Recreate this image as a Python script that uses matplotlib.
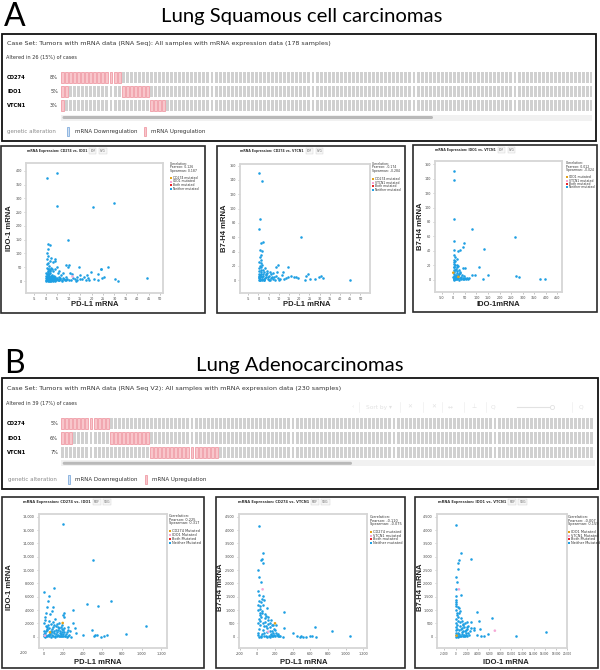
import matplotlib
matplotlib.use('Agg')
import matplotlib.pyplot as plt
from matplotlib.patches import Rectangle, FancyBboxPatch
from matplotlib import font_manager

# ---------------- data ----------------
genes = ['CD274', 'IDO1', 'VTCN1']

lusc_title = 'Lung Squamous cell carcinomas'
lusc_case_set = 'Case Set: Tumors with mRNA data (RNA Seq): All samples with mRNA expression data (178 samples)'
lusc_altered = 'Altered in 26 (15%) of cases'
lusc_pct = ['8%', '5%', '3%']
lusc_n_samples = 178
lusc_up_cd274 = [0, 1, 2, 3, 4, 5, 6, 7, 8, 9, 10, 11, 12, 13, 14]
lusc_up_ido1 = [0, 1, 15, 16, 17, 18, 19, 20, 21]
lusc_up_vtcn1 = [0, 22, 23, 24, 25]

luad_title = 'Lung Adenocarcinomas'
luad_case_set = 'Case Set: Tumors with mRNA data (RNA Seq V2): All samples with mRNA expression data (230 samples)'
luad_altered = 'Altered in 39 (17%) of cases'
luad_pct = ['5%', '6%', '7%']
luad_n_samples = 230
luad_up_cd274 = [0, 1, 2, 3, 4, 5, 6, 7, 8, 9, 10, 11]
luad_up_ido1 = [0, 1, 2, 12, 13, 14, 15, 16, 17, 18, 19, 20, 21]
luad_up_vtcn1 = [22, 23, 24, 25, 26, 27, 28, 29, 30, 31, 32, 33, 34, 35, 36, 37, 38]

# scatter A1: LUSC PD-L1 (CD274) vs IDO-1
a1_points = [(0.6, 375), (4.9, 394), (4.9, 273), (20.8, 268), (29.8, 285), (9.7, 149), (0.9, 135),
             (1.7, 130), (0.9, 116), (1.0, 92), (0.6, 81), (2.3, 82), (4.2, 80), (4.2, 73), (3.2, 68),
             (0.9, 67), (4.8, 52), (8.7, 59), (10.2, 59), (14.5, 50), (9.9, 50), (24.0, 43), (24.3, 44),
             (27.3, 50), (19.6, 32), (22.8, 25), (25.4, 15), (24.7, 12), (30.2, 7), (31.5, 1), (44.3, 11),
             (10.6, 30), (7.7, 30), (6.7, 21), (15.1, 22), (16.9, 16), (17.9, 21), (18.5, 11), (17.4, 4),
             (16.0, 8), (13.8, 4), (12.8, 8), (10.3, 2), (8.7, 5), (9.0, 15), (7.4, 12), (5.8, 16),
             (5.1, 8), (3.8, 10), (2.6, 18), (1.6, 45), (2.2, 46), (2.9, 42), (3.3, 36),
             (0.2, 2), (0.4, 5), (0.5, 9), (0.7, 14), (0.3, 18), (0.8, 22), (0.6, 27), (1.0, 33), (1.1, 3),
             (1.2, 7), (1.3, 11), (1.4, 16), (1.5, 20), (1.6, 25), (1.8, 30), (1.9, 1), (2.0, 4), (2.1, 8),
             (2.2, 12), (2.4, 15), (2.5, 19), (2.7, 23), (2.8, 2), (3.0, 6), (3.1, 10), (3.3, 13), (3.5, 17),
             (3.6, 3), (3.8, 5), (4.0, 9), (4.2, 14), (4.4, 2), (4.6, 6), (4.8, 11), (5.3, 3), (5.6, 5),
             (6.0, 2), (6.4, 8), (6.9, 4), (7.2, 1), (0.1, 0.5), (0.3, 12), (0.9, 38), (1.2, 42), (1.7, 36),
             (0.5, 48), (2.0, 40), (0.2, 30), (6.2, 12), (7.8, 6), (8.3, 2), (9.4, 9), (11.0, 4), (12.0, 12),
             (13.1, 1), (14.8, 6), (19.0, 2), (21.0, 8), (23.0, 3), (11.5, 25), (13.5, 15), (5.5, 28),
             (6.0, 35), (3.9, 44), (1.3, 55), (0.7, 62), (1.8, 72), (0.4, 100), (1.0, 1), (1.5, 0.5),
             (2.3, 1.5), (3.4, 0.8), (4.1, 0.3), (0.8, 4), (1.9, 6), (2.6, 9), (3.2, 3.5), (0.6, 16), (1.1, 24)]
a1_mutated = [(11.6, 19, 'second')]
a1_corr = ('0.126', '0.187')
a1_legend = ['CD274 mutated', 'IDO1 mutated', 'Both mutated', 'Neither mutated']

# scatter A2: LUSC PD-L1 vs B7-H4 (VTCN1)
a2_points = [(0.2, 150), (1.6, 138), (0.8, 85), (0.3, 71), (20.9, 60), (2.1, 54), (1.1, 52), (0.8, 42),
             (1.8, 41), (1.3, 35), (0.8, 32), (1.5, 29), (0.5, 26), (1.1, 24), (9.5, 21), (8.7, 19),
             (14.4, 18), (3.3, 17), (2.5, 14), (5.7, 12), (7.4, 10), (11.9, 11), (9.3, 12), (24.3, 9),
             (23.4, 6), (29.9, 5), (30.6, 6), (31.9, 3), (15.8, 6), (17.6, 5), (18.5, 4), (13.6, 3),
             (10.5, 2), (44.9, 0.5), (25.3, 2), (27.8, 1.5), (22.7, 0.5), (19.6, 3), (14.7, 5), (11.4, 7),
             (0.3, 1), (0.5, 3), (0.7, 5), (0.9, 8), (1.2, 11), (1.4, 14), (0.4, 17), (0.6, 20), (1.8, 2),
             (2.0, 4), (2.2, 6), (2.4, 9), (2.7, 12), (3.0, 1), (3.2, 3), (3.5, 5), (3.8, 7), (4.1, 10),
             (4.5, 2), (4.8, 4), (5.2, 6), (5.6, 1), (6.0, 3), (6.5, 5), (7.0, 2), (7.6, 4), (8.2, 1),
             (8.8, 6), (9.5, 3), (10.2, 1), (12.5, 2), (1.0, 0.5), (1.6, 0.3), (2.6, 0.8), (0.2, 9),
             (0.5, 13), (1.1, 18), (1.9, 22), (3.6, 9), (4.4, 13), (6.2, 9), (0.8, 0.2), (1.3, 6), (2.9, 2),
             (5.0, 0.5), (0.1, 4), (0.4, 6), (0.9, 2), (1.5, 9)]
a2_mutated = []
a2_corr = ('-0.174', '-0.284')
a2_legend = ['CD274 mutated', 'VTCN1 mutated', 'Both mutated', 'Neither mutated']

# scatter A3: LUSC IDO-1 vs B7-H4
a3_points = [(3, 150), (3, 138), (4, 84.5), (79, 70.7), (266.6, 58.7), (1, 53.6), (44.7, 50.8), (3, 41.6),
             (27.4, 41.1), (20, 39.7), (43, 44.8), (134, 42.5), (3, 34.2), (8, 31), (14, 29), (111, 17),
             (4, 18), (14, 20), (22, 19), (40, 16.6), (49, 15.7), (79, 6.5), (94, 6.5), (151, 6.5),
             (130, 0.5), (271, 5), (284, 4), (375, 1.4), (395, 1.4),
             (1, 1), (2, 3), (3, 5), (4, 8), (5, 11), (6, 14), (2, 17), (3, 22), (8, 2), (10, 4), (12, 6),
             (14, 9), (16, 12), (7, 26), (18, 1), (20, 3), (22, 5), (25, 8), (28, 11), (30, 2), (33, 4),
             (36, 6), (40, 1), (44, 3), (48, 5), (52, 2), (56, 1), (60, 3), (65, 1), (70, 2), (12, 0.5),
             (26, 0.3), (35, 0.8), (45, 0.4), (5, 0.2), (9, 1.5), (15, 2.5), (1, 13), (2, 24), (4, 28),
             (11, 15), (19, 7), (24, 14), (31, 9), (6, 5), (13, 3), (17, 17), (8, 21), (3, 0.6), (0.5, 4)]
a3_mutated = [(0, 9.7, 'first'), (22, 4, 'first')]
a3_corr = ('0.012', '-0.024')
a3_legend = ['IDO1 mutated', 'VTCN1 mutated', 'Both mutated', 'Neither mutated']

# scatter B1: LUAD PD-L1 vs IDO-1
b1_points = [(203, 16900), (502, 11500), (10, 6750), (108, 7350), (58, 6100), (51, 5400), (685, 5350),
             (441, 4850), (559, 4600), (34, 4500), (102, 4400), (305, 4000), (85, 3900), (27, 3600),
             (68, 3350), (17, 2900), (210, 3000), (298, 2100), (214, 3600), (203, 3300), (1041, 1650),
             (492, 1000), (322, 1250), (336, 600), (400, 250), (247, 150), (285, 0), (515, 150), (530, 200),
             (543, 300), (586, 0), (620, 100), (644, 300), (841, 400),
             (5, 100), (12, 300), (20, 600), (28, 900), (35, 1200), (42, 1500), (50, 1800), (8, 2100),
             (15, 2500), (60, 200), (70, 500), (80, 800), (90, 1100), (100, 1400), (110, 1700), (120, 100),
             (130, 400), (140, 700), (150, 1000), (160, 1300), (170, 50), (180, 350), (190, 650), (200, 950),
             (210, 1250), (220, 150), (230, 450), (240, 750), (250, 1050), (25, 50), (45, 250), (65, 450),
             (85, 650), (105, 850), (125, 1050), (145, 250), (165, 550), (185, 150), (205, 450), (10, 800),
             (30, 1600), (55, 2400), (75, 1900), (95, 2200), (115, 2600), (135, 1900), (155, 2000),
             (175, 1500), (195, 1800), (18, 0), (38, 30), (58, 60), (78, 20), (98, 80), (118, 10), (138, 40),
             (158, 120), (178, 70), (198, 30), (218, 90), (238, 20), (3, 400), (40, 1000), (62, 1300),
             (88, 300), (112, 600), (128, 1600), (148, 1500), (168, 900), (188, 1100), (208, 700),
             (260, 300), (270, 800), (248, 1400)]
b1_mutated = [(197, 2050, 'first'), (68, 650, 'first'), (17, 150, 'second')]
b1_corr = ('0.225', '0.317')
b1_legend = ['CD274 Mutated', 'IDO1 Mutated', 'Both Mutated', 'Neither Mutated']

# scatter B2: LUAD PD-L1 vs B7-H4
b2_points = [(15, 4162), (68, 3125), (49, 2925), (38, 2875), (68, 2750), (8, 2500), (23, 2225), (38, 2037),
             (11, 1725), (68, 1525), (75, 1375), (68, 1187), (106, 1062), (305, 912), (98, 775), (124, 750),
             (151, 625), (211, 437), (162, 450), (305, 312), (400, 125), (445, 37), (652, 375), (848, 225),
             (1048, 25), (480, 0), (498, 10), (517, 5), (547, 0), (592, 10), (622, 20), (667, 5), (230, 20),
             (260, 15), (294, 0),
             (5, 50), (12, 150), (20, 300), (28, 450), (35, 600), (42, 750), (50, 900), (58, 100), (66, 250),
             (74, 400), (82, 550), (90, 700), (98, 20), (106, 180), (114, 330), (122, 480), (130, 40),
             (138, 200), (146, 350), (154, 80), (162, 230), (170, 30), (178, 150), (186, 60), (194, 280),
             (202, 20), (210, 120), (220, 50), (235, 90), (250, 30), (3, 1000), (8, 1200), (14, 1350),
             (20, 1550), (26, 800), (32, 1050), (44, 1300), (56, 950), (10, 500), (24, 650), (40, 20),
             (60, 500), (80, 120), (100, 400), (120, 640), (140, 520), (160, 100), (180, 420), (200, 250),
             (15, 0), (45, 0), (75, 10), (110, 5), (145, 0), (175, 10), (25, 900), (85, 850), (36, 1150),
             (52, 1400)]
b2_mutated = [(60, 1775, 'second'), (124, 187, 'second'), (200, 500, 'first')]
b2_corr = ('-0.110', '-0.075')
b2_legend = ['CD274 mutated', 'VTCN1 mutated', 'Both mutated', 'Neither mutated']

# scatter B3: LUAD IDO-1 vs B7-H4
b3_points = [(0, 4187), (955, 3125), (2746, 2925), (660, 2875), (480, 2750), (418, 2525), (60, 2225),
             (300, 2062), (0, 1775), (895, 1550), (60, 1525), (60, 1375), (60, 1225), (480, 1100),
             (660, 1060), (780, 975), (300, 875), (3880, 912), (6567, 712), (4238, 587), (1970, 537),
             (2746, 537), (5851, 87), (4358, 300), (3300, 312), (2746, 312), (3300, 250), (1970, 350),
             (3880, 62), (4540, 37), (5075, 25), (10925, 37), (16180, 187),
             (50, 50), (120, 150), (200, 300), (280, 450), (360, 600), (440, 750), (520, 900), (600, 100),
             (680, 250), (760, 400), (840, 550), (920, 700), (1000, 20), (1080, 180), (1160, 330),
             (1240, 480), (1320, 40), (1400, 200), (1480, 350), (1560, 80), (1640, 230), (1720, 30),
             (1800, 150), (1900, 60), (2000, 280), (2100, 20), (2250, 120), (2400, 50), (30, 1000),
             (80, 1150), (140, 1300), (10, 650), (100, 500), (250, 800), (320, 20), (450, 0), (700, 10),
             (900, 300), (1100, 600), (1300, 420), (1500, 10), (1700, 500), (2200, 400), (2600, 200),
             (150, 0), (20, 350), (380, 150), (550, 30), (60, 250), (240, 60), (1200, 90), (1850, 250)]
b3_mutated = [(600, 1775, 'second'), (7045, 225, 'second'), (180, 37, 'first')]
b3_corr = ('-0.007', '0.159')
b3_legend = ['IDO1 Mutated', 'VTCN1 Mutated', 'Both Mutated', 'Neither Mutated']

a_xticks = [-5, 0, 5, 10, 15, 20, 25, 30, 35, 40, 45, 50]
a1_yticks = [0, 50, 100, 150, 200, 250, 300, 350, 400]
a_b7_yticks = [0, 20, 40, 60, 80, 100, 120, 140, 160]
a3_xticks = [-50, 0, 50, 100, 150, 200, 250, 300, 350, 400, 450]
b_pdl1_xticks = [-200, 0, 200, 400, 600, 800, 1000, 1200]
b1_yticks = [0, 2000, 4000, 6000, 8000, 10000, 12000, 14000, 16000, 18000]
b_b7_yticks = [0, 500, 1000, 1500, 2000, 2500, 3000, 3500, 4000, 4500]
b3_xticks = [-2000, 0, 2000, 4000, 6000, 8000, 10000, 12000, 14000, 16000, 18000, 20000]

# ---------------- style ----------------
BLUE = '#1e9fe3'
MUTC = {'first': '#e3a21a', 'second': '#f6a9d6', 'both': '#e8282b'}
LEG_COLORS = ['#e3a21a', '#f6a9d6', '#e8282b', BLUE]
GRAY_BAR = '#d0d0d0'
PINK_FACE = '#f8c6cb'
PINK_EDGE = '#ee8e9a'
FRAME = '#d6d6d6'
BOXC = '#2a2a2a'

_names = {f.name for f in font_manager.fontManager.ttflist}


def pick(*cands):
    for n in cands:
        if n in _names:
            return n
    return 'DejaVu Sans'


TITLE_FONT = pick('Lato', 'Open Sans', 'Noto Sans')
SMALL = 'DejaVu Sans'
if 'Liberation Sans Narrow' in _names:
    LABEL_FONT, LABEL_FS = 'Liberation Sans Narrow', 6.4
else:
    LABEL_FONT, LABEL_FS = pick('Liberation Sans', 'DejaVu Sans'), 5.5

W, H = 600, 670
fig = plt.figure(figsize=(6, 6.7), dpi=100)
fig.patch.set_facecolor('white')
bg = fig.add_axes([0, 0, 1, 1])
bg.set_xlim(0, W)
bg.set_ylim(H, 0)
bg.axis('off')
bg.patch.set_alpha(0)


def add_ax(l, t, r, b):
    return fig.add_axes([l / W, 1 - b / H, (r - l) / W, (b - t) / H])


def box(l, t, r, b, lw=1.1, color=BOXC):
    bg.add_patch(Rectangle((l, t), r - l, b - t, fill=False, ec=color, lw=lw, zorder=5))


# ---------------- headings ----------------
bg.text(4, 26, 'A', fontsize=23, family=TITLE_FONT, ha='left', va='baseline')
bg.text(302, 22, lusc_title, fontsize=14.6, family=TITLE_FONT, ha='center', va='baseline')
bg.text(4, 373, 'B', fontsize=23, family=TITLE_FONT, ha='left', va='baseline')
bg.text(300, 370.5, luad_title, fontsize=14.6, family=TITLE_FONT, ha='center', va='baseline')


# ---------------- oncoprints ----------------
def oncoprint(boxc, case_set, case_y, altered, alt_y, rows_top, rows_bottom, bars_l, bars_r, pitch,
              n, ups, pcts, scroll_y, thumb_r, leg_y, leg_pos):
    box(*boxc, lw=1.3, color='#111111')
    bg.text(7, case_y, case_set, fontsize=4.6, family=SMALL, color='#333', va='center')
    bg.text(6, alt_y, altered, fontsize=3.6, family=SMALL, color='#333', va='center')
    ax = add_ax(bars_l, rows_top, bars_r, rows_bottom)
    ax.set_xlim(0, (bars_r - bars_l) / pitch)
    ax.set_ylim(len(ups) - 0.5, -0.5)
    ax.axis('off')
    ax.patch.set_alpha(0)
    idx = list(range(n))
    for r, up in enumerate(ups):
        s = set(up)
        face = [PINK_FACE if i in s else GRAY_BAR for i in idx]
        edge = [PINK_EDGE if i in s else GRAY_BAR for i in idx]
        lws = [0.5 if i in s else 0.0 for i in idx]
        ax.bar([i + 0.5 for i in idx], 0.76, bottom=r - 0.38, width=0.74, color=face,
               edgecolor=edge, linewidth=lws)
    rh = (rows_bottom - rows_top) / len(ups)
    for r, g in enumerate(genes):
        yc = rows_top + (r + 0.5) * rh
        bg.text(7, yc, g, fontsize=3.7, family=SMALL, fontweight='bold', va='center')
        bg.text(58, yc, pcts[r], fontsize=3.6, family=SMALL, ha='right', va='center', color='#333')
    # scroll bar
    bg.add_patch(Rectangle((bars_l, scroll_y - 3), bars_r - bars_l, 6, fc='#f1f1f1', ec='none'))
    bg.add_patch(FancyBboxPatch((bars_l + 2, scroll_y - 1.5), thumb_r - bars_l - 4, 3,
                                boxstyle='round,pad=0,rounding_size=1.5', fc='#b9b9b9', ec='none'))
    # legend
    bg.text(leg_pos[0], leg_y, 'genetic alteration', fontsize=4.0, family=SMALL, color='#8a8a8a', va='center')
    bg.add_patch(Rectangle((leg_pos[1], leg_y - 4.5), 2.2, 9, fc='#cfe0f3', ec='#6fa0d8', lw=0.5))
    bg.text(leg_pos[2], leg_y, 'mRNA Downregulation', fontsize=4.0, family=SMALL, color='#333', va='center')
    bg.add_patch(Rectangle((leg_pos[3], leg_y - 4.5), 2.4, 9, fc=PINK_FACE, ec=PINK_EDGE, lw=0.5))
    bg.text(leg_pos[4], leg_y, 'mRNA Upregulation', fontsize=4.0, family=SMALL, color='#333', va='center')


oncoprint((2, 34, 596, 141), lusc_case_set, 44, lusc_altered, 57.5, 70.2, 112.6, 60.5, 592, 4.04,
          lusc_n_samples, [lusc_up_cd274, lusc_up_ido1, lusc_up_vtcn1], lusc_pct, 117.5, 435, 131.7,
          (7, 66.5, 75, 143.5, 151))
oncoprint((2, 378, 598, 489), luad_case_set, 388.3, luad_altered, 404, 416.2, 459.8, 60.7, 595, 4.04,
          luad_n_samples, [luad_up_cd274, luad_up_ido1, luad_up_vtcn1], luad_pct, 463.3, 354, 479,
          (8, 68, 75, 144.5, 152))

# faint toolbar in panel B
TB = '#e2e2e2'
for xx, s in [(352, '\u2039'), (366, 'Sort by \u25be'), (407, '\u2715'), (431, '\u2715'), (448, '\u2194'),
              (472, '\u22a5'), (491, 'Q'), (579, 'Q')]:
    bg.text(xx, 407, s, fontsize=4.2, family=SMALL, color=TB, va='center')
for xx in [359, 400, 423, 442, 464, 486, 572]:
    bg.plot([xx, xx], [402, 412], color='#efefef', lw=0.5)
bg.plot([517, 552], [407, 407], color=TB, lw=0.8)
bg.plot([552], [407], marker='o', ms=3, mfc='white', mec=TB, mew=0.6)


# ---------------- scatter panels ----------------
def fmt_plain(v):
    return str(v)


def fmt_comma(v):
    return '{:,}'.format(v)


renderer = fig.canvas.get_renderer()


def scatter_panel(outer, frame, title, title_xy, points, mutated, xlim, ylim, xticks, yticks, fmt,
                  xlabel, xlabel_xy, ylabel, ylabel_xy, corr, legend, leg_x, corr_ys, leg_ys,
                  small_fs, tick_fs, hidden_xticks=(), xtick_fs=None):
    box(*outer, lw=1.2)
    ax = add_ax(*frame)
    xs = [p[0] for p in points]
    ys = [p[1] for p in points]
    ax.scatter(xs, ys, s=3.4, c=BLUE, linewidths=0, zorder=3)
    if mutated:
        ax.scatter([m[0] for m in mutated], [m[1] for m in mutated], s=3.6,
                   c=[MUTC[m[2]] for m in mutated], linewidths=0, zorder=4)
    ax.set_xlim(*xlim)
    ax.set_ylim(*ylim)
    vis_x = [v for v in xticks if v not in hidden_xticks]
    ax.set_xticks(vis_x)
    ax.set_xticklabels([fmt(v) for v in vis_x])
    ax.set_yticks(yticks)
    ax.set_yticklabels([fmt(v) for v in yticks])
    ax.tick_params(labelsize=tick_fs, length=1.6, width=0.4, color='#9a9a9a', labelcolor='#444', pad=1.4)
    if xtick_fs:
        ax.tick_params(axis='x', labelsize=xtick_fs)
    for lab in ax.get_xticklabels() + ax.get_yticklabels():
        lab.set_family(SMALL)
    for v in hidden_xticks:
        ax.annotate(fmt(v), xy=(v, 0), xycoords=('data', 'axes fraction'), xytext=(0, -2.4),
                    textcoords='offset points', ha='center', va='top', fontsize=tick_fs,
                    family=SMALL, color='#444', annotation_clip=False)
    for sp in ax.spines.values():
        sp.set_color(FRAME)
        sp.set_linewidth(1.3)
    # title + buttons
    t = bg.text(title_xy[0], title_xy[1], title, fontsize=small_fs, family=SMALL, fontweight='bold',
                color='#333', va='center', ha='left')
    ext = t.get_window_extent(renderer=renderer)
    x1 = bg.transData.inverted().transform((ext.x1, ext.y0))[0]
    for k, lab in enumerate(['PDF', 'SVG']):
        bg.text(x1 + 3 + k * 10, title_xy[1], lab, fontsize=small_fs * 0.9, family=SMALL, color='#666',
                va='center', ha='left',
                bbox=dict(boxstyle='square,pad=0.35', fc='#f7f7f7', ec='#cfcfcf', lw=0.3))
    # correlation + legend
    for yy, s in zip(corr_ys, ['Correlation:', 'Pearson: ' + corr[0], 'Spearman: ' + corr[1]]):
        bg.text(leg_x, yy, s, fontsize=small_fs, family=SMALL, color='#333', va='center')
    for yy, lab, col in zip(leg_ys, legend, LEG_COLORS):
        bg.add_patch(Rectangle((leg_x, yy - 1), 2, 2, fc=col, ec='none'))
        bg.text(leg_x + 3, yy, lab, fontsize=small_fs, family=SMALL, color='#333', va='center')
    # axis labels
    bg.text(xlabel_xy[0], xlabel_xy[1], xlabel, fontsize=LABEL_FS, family=LABEL_FONT, fontweight='bold',
            ha='center', va='center', color='#222')
    bg.text(ylabel_xy[0], ylabel_xy[1], ylabel, fontsize=LABEL_FS, family=LABEL_FONT, fontweight='bold',
            ha='center', va='center', rotation=90, color='#222')


A_CORR = (164, 167.3, 170.6)
A_LEG = (178, 181.5, 185, 188.5)
scatter_panel((1, 146, 205, 313), (26, 163, 163, 293), 'mRNA Expression: CD274 vs. IDO1', (27, 151),
              a1_points, a1_mutated, (-8.6, 51.2), (-43.6, 429), a_xticks, a1_yticks, fmt_plain,
              'PD-L1 mRNA', (94.5, 304), 'IDO-1 mRNA', (10, 228), a1_corr, a1_legend, 170,
              A_CORR, A_LEG, 2.25, 2.4)
scatter_panel((217, 146, 405, 313), (240, 164, 370, 293), 'mRNA Expression: CD274 vs. VTCN1', (240, 151),
              a2_points, a2_mutated, (-9.0, 54.7), (-17.7, 162.3), a_xticks, a_b7_yticks, fmt_plain,
              'PD-L1 mRNA', (307, 304), 'B7-H4 mRNA', (225, 228), a2_corr, a2_legend, 372,
              A_CORR, (179, 182.7, 186.3, 190), 2.25, 2.4)
scatter_panel((413, 145, 597, 312), (435, 161, 562, 292), 'mRNA Expression: IDO1 vs. VTCN1', (435, 150),
              a3_points, a3_mutated, (-79, 470), (-17, 164.4), a3_xticks, a_b7_yticks, fmt_plain,
              'IDO-1mRNA', (498, 304), 'B7-H4 mRNA', (421, 226), a3_corr, a3_legend, 566,
              (163.3, 166.7, 170), (177.3, 180.5, 183.8, 187), 2.25, 2.4)

B_CORR = (515.8, 519.6, 523.4)
B_LEG = (531, 535, 539, 543)
scatter_panel((2, 497, 204, 668), (39, 514, 167, 648), 'mRNA Expression: CD274 vs. IDO1', (23, 502),
              b1_points, b1_mutated, (-44, 1258), (-1700, 18400), b_pdl1_xticks, b1_yticks, fmt_comma,
              'PD-L1 mRNA', (98, 662), 'IDO-1 mRNA', (10, 587), b1_corr, b1_legend, 169,
              B_CORR, B_LEG, 2.5, 2.4, hidden_xticks=(-200,))
scatter_panel((216, 497, 405, 668), (239, 514, 367, 648), 'mRNA Expression: CD274 vs. VTCN1', (238, 502),
              b2_points, b2_mutated, (-207, 1240), (-425, 4600), b_pdl1_xticks, b_b7_yticks, fmt_comma,
              'PD-L1 mRNA', (304, 662), 'B7-H4 mRNA', (221, 587), b2_corr, b2_legend, 370,
              (516.7, 520.5, 524.3), (531.7, 535.6, 539.4, 543.3), 2.5, 2.4)
scatter_panel((415, 497, 598, 668), (437, 514, 567, 648), 'mRNA Expression: IDO1 vs. VTCN1', (438, 502),
              b3_points, b3_mutated, (-3343, 19940), (-425, 4600), b3_xticks, b_b7_yticks, fmt_comma,
              'IDO-1 mRNA', (506, 662), 'B7-H4 mRNA', (420, 587), b3_corr, b3_legend, 568,
              (516.7, 520.5, 524.3), (531.7, 535.6, 539.4, 543.3), 2.5, 2.4, xtick_fs=2.0)

fig.savefig('out.png', dpi=100, facecolor='white')
